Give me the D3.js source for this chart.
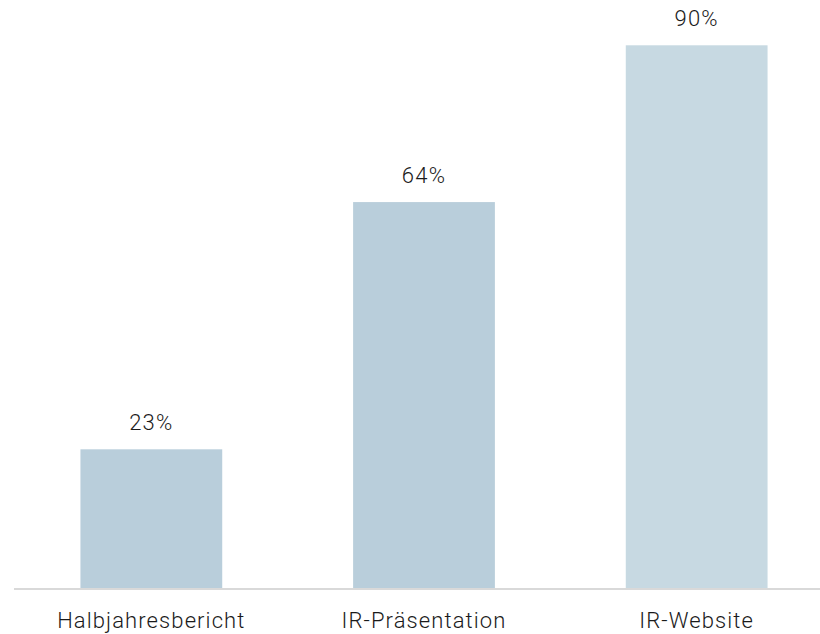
<!DOCTYPE html>
<html>
<head>
<meta charset="utf-8">
<script src="https://cdn.jsdelivr.net/npm/d3@7"></script>
<style>
	body { margin: 0; background: #fff; }
	.valueText { font-family: Roboto, "DejaVu Sans", sans-serif; font-size: 22px; font-weight: 300; fill: #1a1a1a; letter-spacing: 1.2px; }
	.catText { font-family: Roboto, "DejaVu Sans", sans-serif; font-size: 22px; font-weight: 300; fill: #1a1a1a; letter-spacing: 1.1px; }
</style>
</head>
<body>
<svg id="chart" width="820" height="634"></svg>
<script>
var categories = ['Halbjahresbericht', 'IR-Präsentation', 'IR-Website'];
var values = [23, 64, 90];
var barColors = ['#b9cedb', '#b9cedb', '#c7d9e2'];

var svg = d3.select('#chart');

var x = d3.scaleBand()
	.domain(categories)
	.range([15, 833])
	.paddingInner(0.48)
	.paddingOuter(0.24);

var y = d3.scaleLinear()
	.domain([0, 100])
	.range([588, -15]);

// bars
svg.selectAll('rect.bar').data(categories).enter().append('rect')
	.attr('class', 'bar')
	.attr('x', function(d) { return x(d); })
	.attr('y', function(d, i) { return y(values[i]); })
	.attr('width', x.bandwidth())
	.attr('height', function(d, i) { return y(0) - y(values[i]); })
	.attr('fill', function(d, i) { return barColors[i]; });

// value labels
svg.selectAll('text.value').data(categories).enter().append('text')
	.attr('class', 'valueText')
	.attr('x', function(d) { return x(d) + x.bandwidth() / 2; })
	.attr('y', function(d, i) { return y(values[i]) - 19; })
	.attr('text-anchor', 'middle')
	.text(function(d, i) { return values[i] + '%'; });

// baseline
svg.append('line')
	.attr('x1', 14).attr('x2', 820)
	.attr('y1', y(0) + 1).attr('y2', y(0) + 1)
	.attr('stroke', '#d9d9d9').attr('stroke-width', 2);

// category labels
svg.selectAll('text.cat').data(categories).enter().append('text')
	.attr('class', 'catText')
	.attr('x', function(d) { return x(d) + x.bandwidth() / 2; })
	.attr('y', 628)
	.attr('text-anchor', 'middle')
	.text(function(d) { return d; });
</script>
</body>
</html>
